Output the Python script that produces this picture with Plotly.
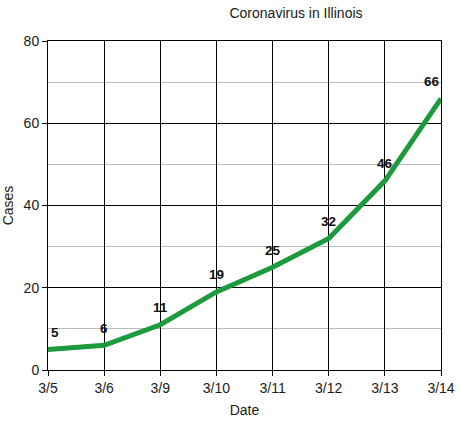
import plotly.graph_objects as go

dates = ["3/5", "3/6", "3/9", "3/10", "3/11", "3/12", "3/13", "3/14"]
cases = [5, 6, 11, 19, 25, 32, 46, 66]
label_xshift = [7, 0, 0, 0, 0, 0, 0, -9]

FONT = "Liberation Sans, Arial, sans-serif"
TXT = "#1a1a1a"
W, H = 460, 425

fig = go.Figure()
fig.add_trace(go.Scatter(
    x=dates, y=cases, mode="lines",
    line=dict(color="#1c9a3c", width=5),
    hoverinfo="skip", showlegend=False,
))

for d, c, xs in zip(dates, cases, label_xshift):
    fig.add_annotation(
        x=d, y=c, text=f"<b>{c}</b>", showarrow=False,
        yshift=17, xshift=xs, xanchor="center", yanchor="middle",
        font=dict(family=FONT, size=13.5, color="#111"),
    )

fig.update_layout(
    width=W, height=H,
    margin=dict(l=48, r=19, t=41, b=55, autoexpand=False),
    paper_bgcolor="white", plot_bgcolor="white",
    font=dict(family=FONT, size=14, color=TXT),
    hovermode=False,
    title=dict(text="Coronavirus in Illinois", x=296 / W, xanchor="center",
               y=1 - 13.5 / H, yanchor="middle",
               font=dict(family=FONT, size=14, color=TXT)),
    xaxis=dict(
        type="category", range=[0, 7], automargin=False,
        showgrid=True, gridcolor="black", gridwidth=1,
        showline=True, linecolor="black", linewidth=1, mirror=True,
        ticks="outside", ticklen=5, tickcolor="black",
        zeroline=False, tickfont=dict(size=14),
        title=dict(text="Date", standoff=10, font=dict(family=FONT, size=14, color=TXT)),
    ),
    yaxis=dict(
        range=[0, 80], dtick=20, automargin=False,
        showgrid=True, gridcolor="black", gridwidth=1,
        showline=True, linecolor="black", linewidth=1, mirror=True,
        zeroline=False,
        ticks="outside", ticklen=5, tickcolor="black", tickfont=dict(size=14),
        minor=dict(dtick=10, showgrid=True, gridcolor="#bbbbbb", gridwidth=1, ticks=""),
        title=dict(text="Cases", standoff=6, font=dict(family=FONT, size=14, color=TXT)),
    ),
)

fig.write_html("out.html", config={"displayModeBar": False},
               post_script="document.body.style.margin='0';")
